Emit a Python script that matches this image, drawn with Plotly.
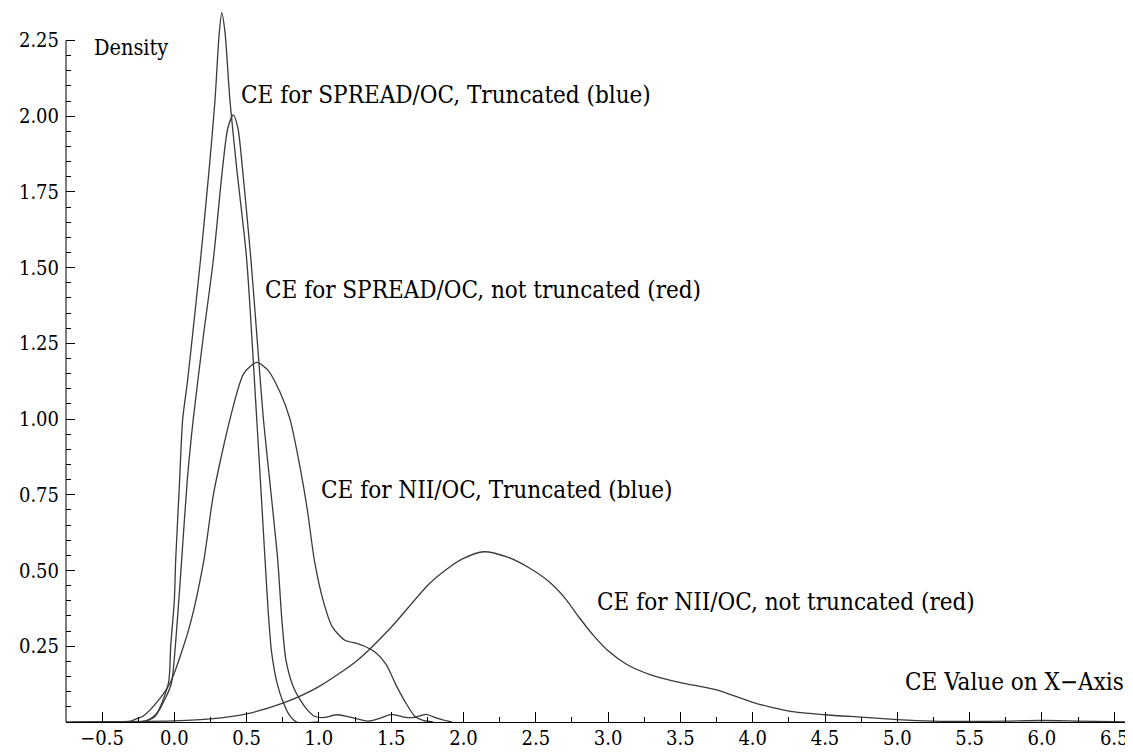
import plotly.graph_objects as go

# ---- data ----
spread_trunc_x = [-0.30, -0.19, -0.12, -0.04, -0.025, 0.0, 0.01, 0.035, 0.058, 0.09, 0.12, 0.18, 0.242, 0.281,
                  0.31, 0.328, 0.35, 0.385, 0.431, 0.50, 0.57, 0.60, 0.627, 0.65, 0.673, 0.71, 0.747, 0.80,
                  0.846, 1.0]
spread_trunc_y = [0.0, 0.005, 0.03, 0.13, 0.25, 0.40, 0.54, 0.78, 1.0, 1.12, 1.25, 1.52, 1.83, 2.05,
                  2.27, 2.342, 2.28, 2.05, 1.83, 1.53, 1.0, 0.76, 0.54, 0.36, 0.23, 0.13, 0.073, 0.02,
                  0.0, 0.0]

spread_full_x = [-0.30, -0.20, -0.131, -0.06, -0.02, 0.02, 0.051, 0.09, 0.131, 0.2, 0.27, 0.335, 0.37, 0.408,
                 0.44, 0.47, 0.53, 0.575, 0.616, 0.67, 0.715, 0.745, 0.772, 0.82, 0.871, 0.92, 0.97, 1.04,
                 1.12, 1.2, 1.34, 1.42, 1.5, 1.6, 1.66, 1.74, 1.82, 1.92]
spread_full_y = [0.0, 0.003, 0.02, 0.08, 0.128, 0.33, 0.536, 0.8, 1.0, 1.27, 1.526, 1.834, 1.96, 2.004,
                 1.96, 1.834, 1.526, 1.25, 1.0, 0.75, 0.536, 0.33, 0.204, 0.12, 0.073, 0.04, 0.019, 0.015,
                 0.024, 0.018, 0.003, 0.012, 0.025, 0.015, 0.015, 0.025, 0.012, 0.0]

nii_trunc_x = [-0.45, -0.30, -0.255, -0.218, -0.13, -0.03, 0.104, 0.203, 0.27, 0.385, 0.48, 0.57, 0.65, 0.73,
               0.80, 0.87, 0.92, 0.97, 1.03, 1.094, 1.18, 1.267, 1.317, 1.39, 1.465, 1.53, 1.589, 1.663,
               1.72, 1.79]
nii_trunc_y = [0.0, 0.003, 0.012, 0.019, 0.06, 0.128, 0.313, 0.53, 0.75, 1.0, 1.15, 1.187, 1.16, 1.09,
               1.0, 0.84, 0.70, 0.53, 0.40, 0.313, 0.27, 0.259, 0.25, 0.23, 0.19, 0.125, 0.073, 0.019,
               0.005, 0.0]

nii_full_x = [-0.75, -0.5, 0.0, 0.25, 0.5, 0.75, 1.0, 1.267, 1.5, 1.76, 1.9, 2.0, 2.14, 2.3, 2.45, 2.6, 2.7,
              2.8, 2.9, 3.0, 3.13, 3.3, 3.5, 3.75, 4.0, 4.26, 4.5, 4.75, 5.0, 5.25, 5.5, 5.75, 6.0, 6.25,
              6.5, 6.6]
nii_full_y = [0.0, 0.001, 0.004, 0.01, 0.027, 0.062, 0.117, 0.204, 0.313, 0.455, 0.51, 0.54, 0.562, 0.545,
              0.51, 0.46, 0.41, 0.345, 0.285, 0.235, 0.19, 0.155, 0.13, 0.106, 0.065, 0.035, 0.024, 0.016,
              0.008, 0.003, 0.002, 0.003, 0.005, 0.003, 0.001, 0.0]

x_tick_vals = [-0.5, 0.0, 0.5, 1.0, 1.5, 2.0, 2.5, 3.0, 3.5, 4.0, 4.5, 5.0, 5.5, 6.0, 6.5]
x_tick_text = ["\u22120.5", "0.0", "0.5", "1.0", "1.5", "2.0", "2.5", "3.0", "3.5", "4.0", "4.5", "5.0",
               "5.5", "6.0", "6.5"]
y_tick_vals = [0.25, 0.50, 0.75, 1.00, 1.25, 1.50, 1.75, 2.00, 2.25]
y_tick_text = ["0.25", "0.50", "0.75", "1.00", "1.25", "1.50", "1.75", "2.00", "2.25"]

labels = ["Density",
          "CE for SPREAD/OC, Truncated (blue)",
          "CE for SPREAD/OC, not truncated (red)",
          "CE for NII/OC, Truncated (blue)",
          "CE for NII/OC, not truncated (red)",
          "CE Value on X\u2212Axis"]

# ---- figure ----
FONT = "DejaVu Serif Condensed, DejaVu Serif"
LINE = dict(color="#3a3a3a", width=1.3, shape="spline", smoothing=0.7)

fig = go.Figure()
for xs, ys, nm in [(spread_trunc_x, spread_trunc_y, "SPREAD/OC truncated"),
                   (spread_full_x, spread_full_y, "SPREAD/OC not truncated"),
                   (nii_trunc_x, nii_trunc_y, "NII/OC truncated"),
                   (nii_full_x, nii_full_y, "NII/OC not truncated")]:
    fig.add_trace(go.Scatter(x=xs, y=ys, mode="lines", line=LINE, name=nm, showlegend=False,
                             hoverinfo="x+y"))

label_pos = [(-0.569, 2.225, 21.5), (0.447, 2.07, 24), (0.613, 1.427, 24),
             (1.0, 0.767, 24), (2.909, 0.397, 24), (5.04, 0.133, 24)]
for txt, (ax, ay, fs) in zip(labels, label_pos):
    fig.add_annotation(x=ax, y=ay, xref="x", yref="y", text=txt, showarrow=False,
                       xanchor="left", yanchor="middle", font=dict(family=FONT, size=fs, color="black"))

# y axis line only up to the last major tick
fig.add_shape(type="line", xref="paper", yref="y", x0=0, x1=0, y0=0, y1=2.25,
              line=dict(color="black", width=1))

x_minor = [v + 0.25 for v in x_tick_vals]
y_minor = [round(0.05 * k, 2) for k in range(1, 46) if k % 5 != 0]

# page body has an 8px margin, so the figure is 1125x746
fig.update_layout(
    width=1125, height=746,
    margin=dict(l=58, r=0, t=0, b=32, autoexpand=False),
    paper_bgcolor="white", plot_bgcolor="white",
    font=dict(family=FONT, size=20, color="black"),
    xaxis=dict(range=[-0.749, 6.630], showgrid=False, zeroline=False, showline=True,
               linecolor="black", linewidth=1, ticks="inside", ticklen=10, tickwidth=1,
               tickcolor="black", tickvals=x_tick_vals, ticktext=x_tick_text, ticklabelstandoff=-2,
               minor=dict(tickvals=x_minor, ticks="inside", ticklen=5, tickcolor="black", showgrid=False),
               tickfont=dict(family=FONT, size=20)),
    yaxis=dict(range=[0, 2.357], showgrid=False, zeroline=False, showline=False,
               ticks="inside", ticklen=9, tickwidth=1, tickcolor="black", ticklabelstandoff=6,
               tickvals=y_tick_vals, ticktext=y_tick_text,
               minor=dict(tickvals=y_minor, ticks="inside", ticklen=5, tickcolor="black", showgrid=False),
               tickfont=dict(family=FONT, size=20)),
)

fig.write_html("out.html")
